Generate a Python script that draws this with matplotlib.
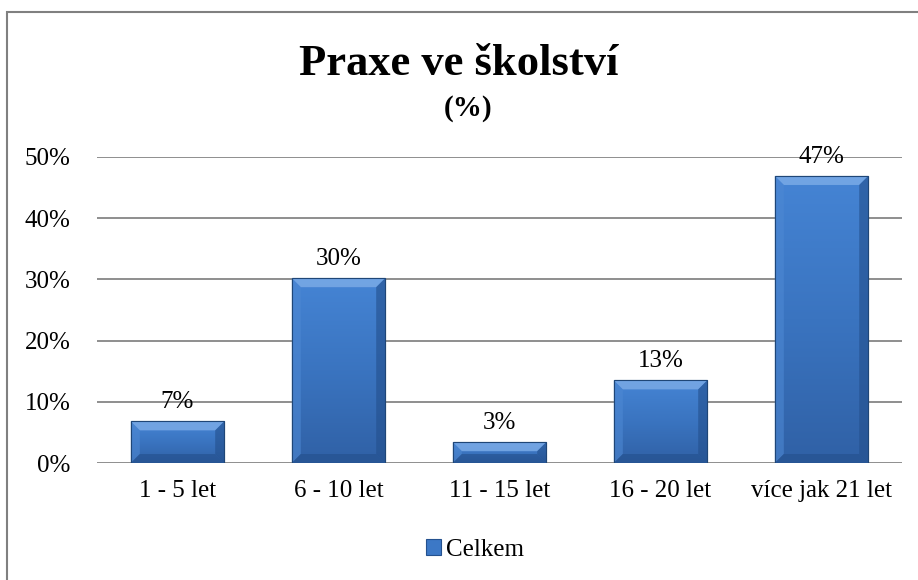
import numpy as np
import matplotlib.pyplot as plt
from matplotlib.patches import Polygon, Rectangle
from matplotlib.colors import LinearSegmentedColormap

# Data
categories = ['1 - 5 let', '6 - 10 let', '11 - 15 let', '16 - 20 let', 'více jak 21 let']
values = [6.8, 30.2, 3.4, 13.5, 46.9]
labels = ['7%', '30%', '3%', '13%', '47%']
series_name = 'Celkem'
yticks = [0, 10, 20, 30, 40, 50]

plt.rcParams['font.family'] = ['Liberation Serif', 'DejaVu Serif']

W, H = 918, 580
fig = plt.figure(figsize=(W / 100, H / 100), dpi=100)
ax = fig.add_axes([97 / W, 1 - 463 / H, (902 - 97) / W, (463 - 157) / H])

x = list(range(len(categories)))
bars = ax.bar(x, values, width=0.58, color='#3C78C6', edgecolor='#24518F',
              linewidth=0.8, zorder=3, label=series_name)

ax.set_xlim(-0.5, len(categories) - 0.5)
ax.set_ylim(0, 50)

# vertical gradient + bevel on each bar (sizes in pixels turned into data units)
cmap = LinearSegmentedColormap.from_list('blu', ['#3061A6', '#3A74C0', '#4584D4'])
grad = np.linspace(0, 1, 64).reshape(-1, 1)
px_x = len(categories) / (902 - 97)
px_y = 50 / (463 - 157)
bx, by = 9 * px_x, 9 * px_y
for b in bars:
    x0, w, h = b.get_x(), b.get_width(), b.get_height()
    x1 = x0 + w
    im = ax.imshow(grad, cmap=cmap, aspect='auto', origin='lower',
                   extent=(x0, x1, 0, h), zorder=3.5, interpolation='bilinear')
    im.set_clip_path(b)
    d = min(by, h / 2)
    dx = min(bx, w / 2)
    top = Polygon([(x0, h), (x1, h), (x1 - dx, h - d), (x0 + dx, h - d)],
                  closed=True, facecolor='#7AAAE6', alpha=0.85, edgecolor='none', zorder=4)
    left = Polygon([(x0, 0), (x0, h), (x0 + dx, h - d), (x0 + dx, d)],
                   closed=True, facecolor='#4D88D3', alpha=0.6, edgecolor='none', zorder=4)
    right = Polygon([(x1, 0), (x1, h), (x1 - dx, h - d), (x1 - dx, d)],
                    closed=True, facecolor='#234F8C', alpha=0.6, edgecolor='none', zorder=4)
    bottom = Polygon([(x0, 0), (x1, 0), (x1 - dx, d), (x0 + dx, d)],
                     closed=True, facecolor='#234F8C', alpha=0.6, edgecolor='none', zorder=4)
    for p in (top, left, right, bottom):
        ax.add_patch(p)
    ax.add_patch(Rectangle((x0, 0), w, h, fill=False, edgecolor='#1F4677',
                           linewidth=0.8, zorder=5))

for xi, v, lab in zip(x, values, labels):
    ax.annotate(lab, (xi, v), xytext=(0, 6), textcoords='offset points',
                ha='center', va='bottom', fontsize=18, zorder=6)

ax.set_yticks(yticks)
ax.set_yticklabels([f'{t}%' for t in yticks], fontsize=18)
ax.set_xticks(x)
ax.set_xticklabels(categories, fontsize=18)
ax.tick_params(axis='both', length=0)
ax.tick_params(axis='y', pad=19)
ax.tick_params(axis='x', pad=12)
ax.yaxis.grid(True, color='#868686', linewidth=1.3, zorder=0)
for s in ax.spines.values():
    s.set_visible(False)

fig.text(459 / W, 1 - 64 / H, 'Praxe ve školství', ha='center', va='center',
         fontsize=32, fontweight='bold')
fig.text(468 / W, 1 - 108 / H, '(%)', ha='center', va='center',
         fontsize=21, fontweight='bold')

leg = fig.legend(handles=[bars], labels=[series_name], loc='center',
                 bbox_to_anchor=(475 / W, 1 - 550 / H), frameon=False,
                 fontsize=18, handlelength=0.6, handleheight=0.6,
                 handletextpad=0.2)

# outer chart frame
fig.patches.append(Rectangle((7 / W, -0.1), 1.2, (1 - 12 / H) + 0.1,
                             transform=fig.transFigure, fill=False,
                             edgecolor='#808080', linewidth=1.5))

fig.savefig('out.png', dpi=100)
